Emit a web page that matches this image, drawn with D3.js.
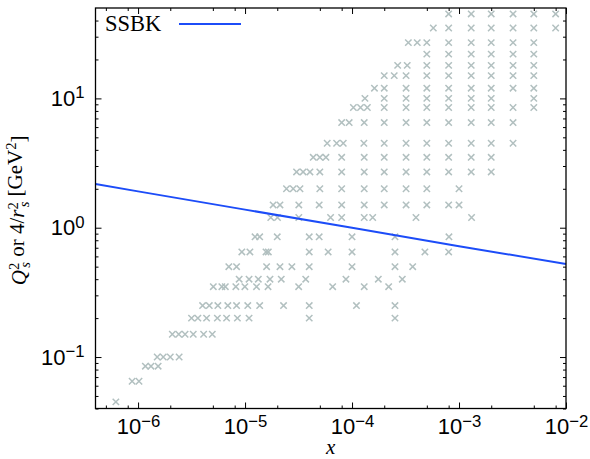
<!DOCTYPE html>
<html>
<head>
<meta charset="utf-8">
<script src="https://cdn.jsdelivr.net/npm/d3@7"></script>
<style>
  body { margin: 0; background: #fff; }
  svg { display: block; font-family: "Liberation Serif", "DejaVu Serif", serif; }
</style>
</head>
<body>
<div id="chart"></div>
<script>
// Q^2 bins (GeV^2) of the data points, one row of crosses per bin
var q2Bins = [0.045, 0.065, 0.085, 0.1, 0.15, 0.2, 0.25, 0.35, 0.4, 0.5, 0.65, 0.85,
    1.2, 1.5, 2, 2.7, 3.5, 4.5, 6.5, 8.5, 10, 12, 15, 18, 22, 27, 35, 45];

// x values of the points in each Q^2 bin (same order as q2Bins)
var xInBin = [
    [6.2e-7],
    [8.8e-7, 1.02e-6],
    [1.17e-6, 1.32e-6, 1.54e-6],
    [1.51e-6, 1.72e-6, 2.0e-6, 2.42e-6],
    [2.09e-6, 2.4e-6, 2.75e-6, 3.28e-6, 4.1e-6, 4.94e-6],
    [3.16e-6, 3.62e-6, 4.37e-6, 5.51e-6, 6.72e-6, 8.48e-6, 1.09e-5, 3.98e-5, 2.52e-4],
    [4.01e-6, 4.63e-6, 5.57e-6, 6.9e-6, 8.33e-6, 1.06e-5, 1.37e-5, 2.29e-5, 3.98e-5, 1.1e-4, 2.52e-4],
    [5.05e-6, 6.07e-6, 6.54e-6, 8.2e-6, 9.96e-6, 1.28e-5, 1.64e-5, 3.17e-5, 6.59e-5, 1.3e-4, 2.2e-4],
    [8.81e-6, 1.09e-5, 1.33e-5, 1.71e-5, 2.18e-5, 3.69e-5, 8.77e-5, 1.76e-4, 2.95e-4],
    [7.05e-6, 8.33e-6, 1.59e-5, 2.12e-5, 2.74e-5, 3.98e-5, 1.0e-4, 2.52e-4, 3.69e-4],
    [9.33e-6, 1.11e-5, 1.57e-5, 1.65e-5, 3.98e-5, 5.98e-5, 1.0e-4, 2.52e-4, 4.8e-4, 8.0e-4],
    [1.24e-5, 1.37e-5, 2.0e-5, 3.98e-5, 4.93e-5, 1.0e-4, 2.52e-4, 8.05e-4],
    [1.74e-5, 2.01e-5, 3.18e-5, 6.3e-5, 8.0e-5, 1.3e-4, 1.56e-4, 3.96e-4, 1.31e-3],
    [1.83e-5, 2.12e-5, 3.18e-5, 4.93e-5, 8.0e-5, 1.3e-4, 2.0e-4, 3.2e-4, 5.0e-4, 8.0e-4, 1.0e-3],
    [2.44e-5, 2.82e-5, 3.26e-5, 5.0e-5, 8.0e-5, 1.3e-4, 2.0e-4, 3.2e-4, 5.0e-4, 1.0e-3],
    [3.03e-5, 3.49e-5, 4.04e-5, 5.0e-5, 8.0e-5, 1.3e-4, 2.0e-4, 3.2e-4, 5.0e-4, 8.0e-4, 1.3e-3, 2.0e-3],
    [4.34e-5, 5.0e-5, 5.7e-5, 8.0e-5, 1.3e-4, 2.0e-4, 3.2e-4, 5.0e-4, 8.0e-4, 1.3e-3, 2.0e-3],
    [5.86e-5, 7.18e-5, 8.28e-5, 1.29e-4, 2.0e-4, 3.2e-4, 5.0e-4, 8.0e-4, 1.3e-3, 2.0e-3, 3.2e-3],
    [8.0e-5, 9.4e-5, 1.3e-4, 2.0e-4, 3.2e-4, 5.0e-4, 8.0e-4, 1.3e-3, 2.0e-3, 3.2e-3],
    [1.03e-4, 1.2e-4, 1.39e-4, 2.0e-4, 3.2e-4, 5.0e-4, 8.0e-4, 1.3e-3, 2.0e-3, 3.2e-3, 5.0e-3],
    [1.32e-4, 2.0e-4, 3.2e-4, 5.0e-4, 8.0e-4, 1.3e-3, 2.0e-3, 5.0e-3],
    [1.62e-4, 2.0e-4, 3.2e-4, 5.0e-4, 8.0e-4, 1.3e-3, 2.0e-3, 3.2e-3, 5.0e-3],
    [2.0e-4, 2.48e-4, 3.2e-4, 5.0e-4, 8.0e-4, 1.3e-3, 2.0e-3, 3.2e-3, 5.0e-3],
    [2.67e-4, 3.28e-4, 5.0e-4, 8.0e-4, 1.3e-3, 2.0e-3, 3.2e-3, 5.0e-3],
    [5.0e-4, 8.0e-4, 1.3e-3, 2.0e-3, 3.2e-3, 5.0e-3],
    [3.36e-4, 4.07e-4, 5.0e-4, 8.0e-4, 1.3e-3, 2.0e-3, 3.2e-3, 5.0e-3],
    [5.75e-4, 8.0e-4, 1.3e-3, 2.0e-3, 3.2e-3, 5.0e-3, 8.0e-3],
    [8.0e-4, 1.3e-3, 2.0e-3, 3.2e-3, 5.0e-3, 8.0e-3]
];

// SSBK curve Q_s^2(x)
var ssbkX = [4e-7, 1e-6, 1e-5, 1e-4, 1e-3, 1e-2];
var ssbkQs2 = [2.18, 1.91, 1.38, 1.0, 0.72, 0.524];

// tick values
var xMajor = [1e-6, 1e-5, 1e-4, 1e-3, 1e-2];
var xMinor = [5e-7, 8e-7, 2e-6, 5e-6, 8e-6, 2e-5, 5e-5, 8e-5, 2e-4, 5e-4, 8e-4, 2e-3, 5e-3, 8e-3];
var yMajor = [0.1, 1, 10];
var yMinor = [0.04, 0.05, 0.06, 0.07, 0.08, 0.09, 0.2, 0.3, 0.4, 0.5, 0.6, 0.7, 0.8, 0.9,
    2, 3, 4, 5, 6, 7, 8, 9, 20, 30, 40];

var points = [];
q2Bins.forEach(function(q, i) {
    xInBin[i].forEach(function(xv) { points.push({x: xv, q2: q}); });
});

var margin = {top: 8, right: 24, bottom: 50.5, left: 95.5},
    width = 590 - margin.left - margin.right,
    height = 459 - margin.top - margin.bottom;

var svg = d3.select("#chart")
    .append("svg")
    .attr("width", 590)
    .attr("height", 459);

var g = svg.append("g")
    .attr("transform", "translate(" + margin.left + "," + margin.top + ")");

var x = d3.scaleLog().domain([4e-7, 1e-2]).range([0, width]);
var y = d3.scaleLog().domain([0.04, 50]).range([height, 0]);

// writes 10^e as a text with a raised exponent
function powerLabel(d) {
    var e = Math.round(Math.log10(d));
    var t = d3.select(this).text(null);
    t.append("tspan").text("10");
    t.append("tspan")
        .attr("dy", "-0.45em")
        .attr("font-size", "0.76em")
        .text(e < 0 ? "\u2212" + (-e) : e);
}

function styleAxis(sel) {
    sel.select(".domain").remove();
    sel.selectAll(".tick line").attr("stroke", "#000").attr("stroke-width", 1);
}

// major + minor ticks, pointing inward on all four sides
var xb = g.append("g").attr("transform", "translate(0," + height + ")")
    .call(d3.axisBottom(x).tickValues(xMajor).tickSizeInner(-6).tickPadding(10));
xb.call(styleAxis);
xb.selectAll("text").attr("font-size", 22).attr("fill", "#000").each(powerLabel);
g.append("g").attr("transform", "translate(0," + height + ")")
    .call(d3.axisBottom(x).tickValues(xMinor).tickSizeInner(-3).tickFormat(""))
    .call(styleAxis);
g.append("g")
    .call(d3.axisTop(x).tickValues(xMajor).tickSizeInner(-6).tickFormat(""))
    .call(styleAxis);
g.append("g")
    .call(d3.axisTop(x).tickValues(xMinor).tickSizeInner(-3).tickFormat(""))
    .call(styleAxis);

var yl = g.append("g")
    .call(d3.axisLeft(y).tickValues(yMajor).tickSizeInner(-6).tickPadding(11));
yl.call(styleAxis);
yl.selectAll("text").attr("font-size", 22).attr("fill", "#000").each(powerLabel);
g.append("g")
    .call(d3.axisLeft(y).tickValues(yMinor).tickSizeInner(-3).tickFormat(""))
    .call(styleAxis);
g.append("g").attr("transform", "translate(" + width + ",0)")
    .call(d3.axisRight(y).tickValues(yMajor).tickSizeInner(-6).tickFormat(""))
    .call(styleAxis);
g.append("g").attr("transform", "translate(" + width + ",0)")
    .call(d3.axisRight(y).tickValues(yMinor).tickSizeInner(-3).tickFormat(""))
    .call(styleAxis);

// data points (crosses)
g.selectAll(".pt")
    .data(points)
    .enter().append("path")
    .attr("class", "pt")
    .attr("d", "M-3.2,-3.2L3.2,3.2M-3.2,3.2L3.2,-3.2")
    .attr("transform", function(d) { return "translate(" + x(d.x) + "," + y(d.q2) + ")"; })
    .attr("stroke", "#b2c0c0")
    .attr("stroke-width", 1.5)
    .attr("fill", "none");

// SSBK line
var line = d3.line()
    .x(function(d, i) { return x(ssbkX[i]); })
    .y(function(d) { return y(d); });
g.append("path")
    .datum(ssbkQs2)
    .attr("d", line)
    .attr("fill", "none")
    .attr("stroke", "#1c4cf8")
    .attr("stroke-width", 2);

// frame
g.append("rect")
    .attr("width", width)
    .attr("height", height)
    .attr("fill", "none")
    .attr("stroke", "#000")
    .attr("stroke-width", 1.3);

// legend
svg.append("text")
    .attr("x", 105).attr("y", 31)
    .attr("font-size", 22.5)
    .text("SSBK");
svg.append("line")
    .attr("x1", 179).attr("x2", 241)
    .attr("y1", 24).attr("y2", 24)
    .attr("stroke", "#1c4cf8")
    .attr("stroke-width", 2);

// axis labels
svg.append("text")
    .attr("x", margin.left + width / 2).attr("y", 454)
    .attr("text-anchor", "middle")
    .attr("font-size", 21)
    .attr("font-style", "italic")
    .text("x");

var ylab = svg.append("text")
    .attr("transform", "translate(26," + (margin.top + height / 2 + 2) + ") rotate(-90)")
    .attr("text-anchor", "middle")
    .attr("font-size", 21);
ylab.append("tspan").attr("font-style", "italic").text("Q");
ylab.append("tspan").attr("dy", "-0.45em").attr("font-size", "0.7em").text("2");
ylab.append("tspan").attr("dy", "0.75em").attr("dx", "-0.35em").attr("font-size", "0.7em")
    .attr("font-style", "italic").text("s");
ylab.append("tspan").attr("dy", "-0.3em").text(" or 4/");
ylab.append("tspan").attr("font-style", "italic").text("r");
ylab.append("tspan").attr("dy", "-0.45em").attr("font-size", "0.7em").text("2");
ylab.append("tspan").attr("dy", "0.75em").attr("dx", "-0.35em").attr("font-size", "0.7em")
    .attr("font-style", "italic").text("s");
ylab.append("tspan").attr("dy", "-0.3em").text(" [GeV");
ylab.append("tspan").attr("dy", "-0.45em").attr("font-size", "0.7em").text("2");
ylab.append("tspan").attr("dy", "0.45em").text("]");
</script>
</body>
</html>
